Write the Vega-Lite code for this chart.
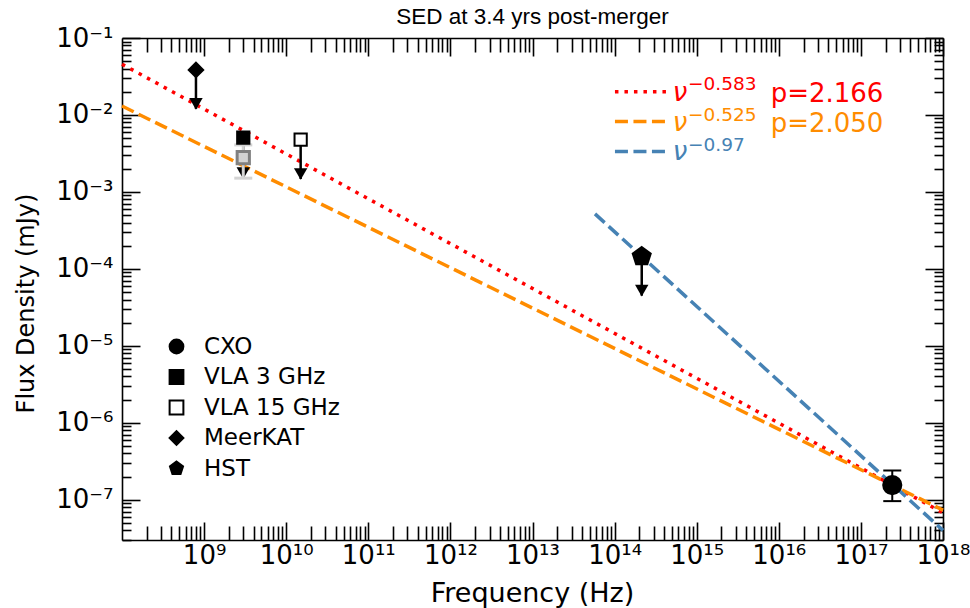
{
  "$schema": "https://vega.github.io/schema/vega-lite/v6.json",
  "width": 821,
  "height": 502,
  "autosize": {"type": "none"},
  "padding": {"left": 122, "top": 38, "right": 27, "bottom": 68},
  "background": "white",
  "title": {"text": "SED at 3.4 yrs post-merger", "font": "Liberation Sans", "fontSize": 22.5, "fontWeight": "normal", "color": "black", "anchor": "middle", "offset": -3},
  "config": {
    "view": {"stroke": null},
    "axis": {"domainColor": "black", "domainWidth": 1.6, "tickColor": "black", "tickWidth": 1.6, "grid": false, "labelFont": "DejaVu Sans", "labelFontSize": 26, "labelColor": "black", "labelOverlap": false, "labelFlush": false, "labelBound": false, "titleFont": "DejaVu Sans", "titleFontSize": 27, "titleFontWeight": "normal", "titleColor": "black"},
    "legend": {"title": null, "orient": "none", "legendX": 43, "legendY": 297, "labelFont": "DejaVu Sans", "labelFontSize": 23, "labelColor": "black", "symbolSize": 190, "symbolStrokeWidth": 2, "rowPadding": 6.5, "labelOffset": 16, "padding": 0}
  },
  "datasets": {
    "points": [
      {"instrument": "CXO", "freq": 2.41e17, "flux": 1.55e-7, "lo": 9.6e-8, "hi": 2.4e-7},
      {"instrument": "VLA 3 GHz", "freq": 3.0e9, "flux": 5.07e-3, "tip": 1.51e-3},
      {"instrument": "VLA 15 GHz", "freq": 1.5e10, "flux": 4.79e-3, "tip": 1.47e-3},
      {"instrument": "MeerKAT", "freq": 7.96e8, "flux": 0.0385, "tip": 0.012},
      {"instrument": "HST", "freq": 2.14e14, "flux": 1.45e-4, "tip": 4.49e-5}
    ],
    "gray": [{"freq": 3.0e9, "flux": 2.80e-3, "lo": 1.51e-3, "hi": 4.08e-3}],
    "lines": [
      {"series": "p1", "freq": 1e8, "flux": 0.0457},
      {"series": "p1", "freq": 1e18, "flux": 6.76e-8},
      {"series": "p2", "freq": 1e8, "flux": 0.01306},
      {"series": "p2", "freq": 1e18, "flux": 7.34e-8},
      {"series": "opt", "freq": 5.77e13, "flux": 5.18e-4},
      {"series": "opt", "freq": 1e18, "flux": 4.0e-8}
    ],
    "handles": [
      {"series": "p1", "freq": 1.01e14, "freq2": 4.35e14, "flux": 0.0201},
      {"series": "p2", "freq": 1.01e14, "freq2": 4.35e14, "flux": 8.2e-3},
      {"series": "opt", "freq": 1.01e14, "freq2": 4.35e14, "flux": 3.34e-3}
    ],
    "notes": [
      {"series": "p1", "role": "nu", "text": "ν", "freq": 5.1e14, "flux": 0.01535},
      {"series": "p1", "role": "sup", "text": "−0.583", "freq": 7.83e14, "flux": 0.02084},
      {"series": "p1", "role": "p", "text": "p=2.166", "freq": 7.96e15, "flux": 0.0149},
      {"series": "p2", "role": "nu", "text": "ν", "freq": 5.1e14, "flux": 6.26e-3},
      {"series": "p2", "role": "sup", "text": "−0.525", "freq": 7.83e14, "flux": 8.45e-3},
      {"series": "p2", "role": "p", "text": "p=2.050", "freq": 7.96e15, "flux": 6.08e-3},
      {"series": "opt", "role": "nu", "text": "ν", "freq": 5.1e14, "flux": 2.61e-3},
      {"series": "opt", "role": "sup", "text": "−0.97", "freq": 7.83e14, "flux": 3.44e-3}
    ]
  },
  "layer": [
    {
      "encoding": {
        "x": {"field": "freq", "type": "quantitative",
          "scale": {"type": "log", "domain": [1e8, 1e18], "nice": false},
          "axis": {"orient": "bottom", "title": "Frequency (Hz)", "titleX": 410, "titleY": 61, "titleBaseline": "alphabetic", "titleAlign": "center",
            "values": [2e8,3e8,4e8,5e8,6e8,7e8,8e8,9e8,1e9,2e9,3e9,4e9,5e9,6e9,7e9,8e9,9e9,1e10,2e10,3e10,4e10,5e10,6e10,7e10,8e10,9e10,1e11,2e11,3e11,4e11,5e11,6e11,7e11,8e11,9e11,1e12,2e12,3e12,4e12,5e12,6e12,7e12,8e12,9e12,1e13,2e13,3e13,4e13,5e13,6e13,7e13,8e13,9e13,1e14,2e14,3e14,4e14,5e14,6e14,7e14,8e14,9e14,1e15,2e15,3e15,4e15,5e15,6e15,7e15,8e15,9e15,1e16,2e16,3e16,4e16,5e16,6e16,7e16,8e16,9e16,1e17,2e17,3e17,4e17,5e17,6e17,7e17,8e17,9e17,1e18],
            "labelExpr": "abs(log(datum.value)/LN10 - round(log(datum.value)/LN10)) < 1e-6 ? ['10⁹','10¹⁰','10¹¹','10¹²','10¹³','10¹⁴','10¹⁵','10¹⁶','10¹⁷','10¹⁸'][round(log(datum.value)/LN10) - 9] : ''",
            "tickSize": {"condition": {"test": "abs(log(datum.value)/LN10 - round(log(datum.value)/LN10)) < 1e-6", "value": -18}, "value": -14},
            "labelPadding": 20}},
        "y": {"field": "flux", "type": "quantitative",
          "scale": {"type": "log", "domain": [3e-8, 0.1], "nice": false},
          "axis": {"orient": "left", "title": "Flux Density (mJy)", "titleFontSize": 24, "titleX": -89, "titleY": 265, "titleBaseline": "alphabetic", "titleAlign": "center", "titleAngle": -90,
            "values": [3e-8,4e-8,5e-8,6e-8,7e-8,8e-8,9e-8,1e-7,2e-7,3e-7,4e-7,5e-7,6e-7,7e-7,8e-7,9e-7,1e-6,2e-6,3e-6,4e-6,5e-6,6e-6,7e-6,8e-6,9e-6,1e-5,2e-5,3e-5,4e-5,5e-5,6e-5,7e-5,8e-5,9e-5,1e-4,2e-4,3e-4,4e-4,5e-4,6e-4,7e-4,8e-4,9e-4,1e-3,2e-3,3e-3,4e-3,5e-3,6e-3,7e-3,8e-3,9e-3,1e-2,2e-2,3e-2,4e-2,5e-2,6e-2,7e-2,8e-2,9e-2,1e-1],
            "labelExpr": "abs(log(datum.value)/LN10 - round(log(datum.value)/LN10)) < 1e-6 ? ['10⁻⁷','10⁻⁶','10⁻⁵','10⁻⁴','10⁻³','10⁻²','10⁻¹'][round(log(datum.value)/LN10) + 7] : ''",
            "tickSize": {"condition": {"test": "abs(log(datum.value)/LN10 - round(log(datum.value)/LN10)) < 1e-6", "value": -18}, "value": -9},
            "labelPadding": 27}}
      },
      "layer": [
        {"data": {"name": "lines"}, "mark": {"type": "line", "strokeWidth": 3.5},
          "encoding": {
            "color": {"field": "series", "type": "nominal", "scale": {"domain": ["p1", "p2", "opt"], "range": ["#ff0000", "#ff8c00", "#4682b4"]}, "legend": null},
            "strokeDash": {"field": "series", "type": "nominal", "scale": {"domain": ["p1", "p2", "opt"], "range": [[3.5, 6], [13, 5.5], [13, 5.5]]}, "legend": null}}},
        {"data": {"name": "handles"}, "mark": {"type": "rule", "strokeWidth": 3.5},
          "encoding": {
            "x2": {"field": "freq2"},
            "color": {"field": "series", "type": "nominal", "legend": null},
            "strokeDash": {"field": "series", "type": "nominal", "legend": null}}},
        {"data": {"name": "points"}, "transform": [{"filter": "isValid(datum.tip)"}], "mark": {"type": "rule", "strokeWidth": 2.5, "color": "black"},
          "encoding": {"y2": {"field": "tip"}}},
        {"data": {"name": "points"}, "transform": [{"filter": "isValid(datum.tip)"}], "mark": {"type": "point", "shape": "triangle-down", "filled": true, "color": "black", "opacity": 1, "size": 180, "yOffset": -5},
          "encoding": {"y": {"field": "tip", "type": "quantitative"}}},
        {"data": {"name": "points"}, "transform": [{"filter": "isValid(datum.lo)"}], "mark": {"type": "rule", "strokeWidth": 2, "color": "black"},
          "encoding": {"y": {"field": "lo", "type": "quantitative"}, "y2": {"field": "hi"}}},
        {"data": {"name": "points"}, "transform": [{"filter": "isValid(datum.lo)"}], "mark": {"type": "tick", "orient": "horizontal", "size": 18, "thickness": 2, "color": "black", "opacity": 1},
          "encoding": {"y": {"field": "lo", "type": "quantitative"}}},
        {"data": {"name": "points"}, "transform": [{"filter": "isValid(datum.hi)"}], "mark": {"type": "tick", "orient": "horizontal", "size": 18, "thickness": 2, "color": "black", "opacity": 1},
          "encoding": {"y": {"field": "hi", "type": "quantitative"}}},
        {"data": {"name": "gray"}, "mark": {"type": "rule", "strokeWidth": 3, "color": "#d3d3d3"},
          "encoding": {"y": {"field": "lo", "type": "quantitative"}, "y2": {"field": "hi"}}},
        {"data": {"name": "gray"}, "mark": {"type": "tick", "orient": "horizontal", "size": 18, "thickness": 3, "color": "#d3d3d3", "opacity": 1},
          "encoding": {"y": {"field": "lo", "type": "quantitative"}}},
        {"data": {"name": "gray"}, "mark": {"type": "tick", "orient": "horizontal", "size": 18, "thickness": 3, "color": "#d3d3d3", "opacity": 1},
          "encoding": {"y": {"field": "hi", "type": "quantitative"}}},
        {"data": {"name": "gray"}, "mark": {"type": "point", "shape": "square", "size": 150, "fill": "#d3d3d3", "stroke": "#808080", "strokeWidth": 3, "opacity": 1}},
        {"data": {"name": "points"}, "mark": {"type": "point", "strokeWidth": 2, "opacity": 1, "fillOpacity": 1, "strokeOpacity": 1},
          "encoding": {
            "shape": {"field": "instrument", "type": "nominal",
              "scale": {"domain": ["CXO", "VLA 3 GHz", "VLA 15 GHz", "MeerKAT", "HST"], "range": ["circle", "square", "square", "diamond", "M0,-1L0.951,-0.309L0.588,0.809L-0.588,0.809L-0.951,-0.309Z"]}},
            "fill": {"field": "instrument", "type": "nominal",
              "scale": {"domain": ["CXO", "VLA 3 GHz", "VLA 15 GHz", "MeerKAT", "HST"], "range": ["black", "black", "white", "black", "black"]}},
            "stroke": {"field": "instrument", "type": "nominal",
              "scale": {"domain": ["CXO", "VLA 3 GHz", "VLA 15 GHz", "MeerKAT", "HST"], "range": ["black", "black", "black", "black", "black"]}},
            "size": {"field": "instrument", "type": "nominal",
              "scale": {"type": "ordinal", "domain": ["HST", "MeerKAT", "VLA 15 GHz", "VLA 3 GHz", "CXO"], "range": [360, 210, 150, 150, 330]},
              "legend": null}}},
        {"data": {"name": "notes"}, "transform": [{"filter": "datum.role === 'nu'"}], "mark": {"type": "text", "font": "DejaVu Sans", "fontStyle": "italic", "fontSize": 26, "align": "left", "baseline": "alphabetic"},
          "encoding": {"text": {"field": "text"}, "color": {"field": "series", "type": "nominal", "legend": null}}},
        {"data": {"name": "notes"}, "transform": [{"filter": "datum.role === 'sup'"}], "mark": {"type": "text", "font": "DejaVu Sans", "fontSize": 18.5, "align": "left", "baseline": "alphabetic"},
          "encoding": {"text": {"field": "text"}, "color": {"field": "series", "type": "nominal", "legend": null}}},
        {"data": {"name": "notes"}, "transform": [{"filter": "datum.role === 'p'"}], "mark": {"type": "text", "font": "DejaVu Sans", "fontSize": 26, "align": "left", "baseline": "alphabetic"},
          "encoding": {"text": {"field": "text"}, "color": {"field": "series", "type": "nominal", "legend": null}}}
      ]
    },
    {
      "data": {"values": [{}]},
      "mark": {"type": "point", "opacity": 0},
      "encoding": {
        "x": {"datum": 1e12, "type": "quantitative",
          "scale": {"type": "log", "domain": [1e8, 1e18], "nice": false},
          "axis": {"orient": "top", "title": null, "labels": false,
            "values": [2e8,3e8,4e8,5e8,6e8,7e8,8e8,9e8,1e9,2e9,3e9,4e9,5e9,6e9,7e9,8e9,9e9,1e10,2e10,3e10,4e10,5e10,6e10,7e10,8e10,9e10,1e11,2e11,3e11,4e11,5e11,6e11,7e11,8e11,9e11,1e12,2e12,3e12,4e12,5e12,6e12,7e12,8e12,9e12,1e13,2e13,3e13,4e13,5e13,6e13,7e13,8e13,9e13,1e14,2e14,3e14,4e14,5e14,6e14,7e14,8e14,9e14,1e15,2e15,3e15,4e15,5e15,6e15,7e15,8e15,9e15,1e16,2e16,3e16,4e16,5e16,6e16,7e16,8e16,9e16,1e17,2e17,3e17,4e17,5e17,6e17,7e17,8e17,9e17,1e18],
            "tickSize": {"condition": {"test": "abs(log(datum.value)/LN10 - round(log(datum.value)/LN10)) < 1e-6", "value": -18}, "value": -14}}},
        "y": {"datum": 1e-4, "type": "quantitative",
          "scale": {"type": "log", "domain": [3e-8, 0.1], "nice": false},
          "axis": {"orient": "right", "title": null, "labels": false,
            "values": [3e-8,4e-8,5e-8,6e-8,7e-8,8e-8,9e-8,1e-7,2e-7,3e-7,4e-7,5e-7,6e-7,7e-7,8e-7,9e-7,1e-6,2e-6,3e-6,4e-6,5e-6,6e-6,7e-6,8e-6,9e-6,1e-5,2e-5,3e-5,4e-5,5e-5,6e-5,7e-5,8e-5,9e-5,1e-4,2e-4,3e-4,4e-4,5e-4,6e-4,7e-4,8e-4,9e-4,1e-3,2e-3,3e-3,4e-3,5e-3,6e-3,7e-3,8e-3,9e-3,1e-2,2e-2,3e-2,4e-2,5e-2,6e-2,7e-2,8e-2,9e-2,1e-1],
            "tickSize": {"condition": {"test": "abs(log(datum.value)/LN10 - round(log(datum.value)/LN10)) < 1e-6", "value": -18}, "value": -9}}}
      }
    }
  ],
  "resolve": {"scale": {"x": "independent", "y": "independent"}}
}
